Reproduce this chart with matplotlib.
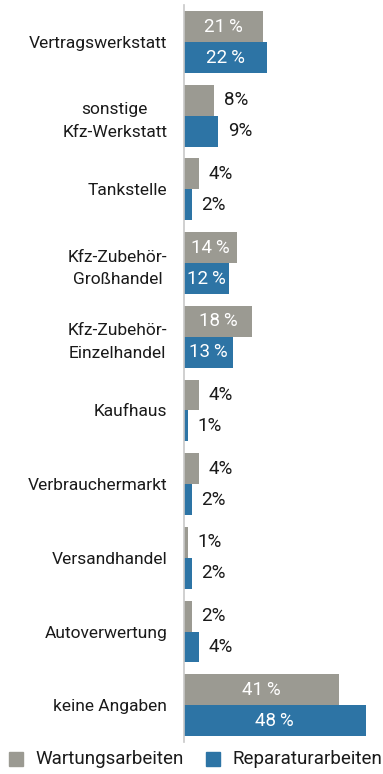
import matplotlib
matplotlib.use("Agg")
import matplotlib.pyplot as plt
from matplotlib import font_manager
from matplotlib.patches import Rectangle

# Werkstatt-Umfrage: wo werden Wartung und Reparatur erledigt (in %)
categories = [
    "Vertragswerkstatt",
    "sonstige\nKfz-Werkstatt",
    "Tankstelle",
    "Kfz-Zubehör-\nGroßhandel",
    "Kfz-Zubehör-\nEinzelhandel",
    "Kaufhaus",
    "Verbrauchermarkt",
    "Versandhandel",
    "Autoverwertung",
    "keine Angaben",
]
wartung = [21, 8, 4, 14, 18, 4, 4, 1, 2, 41]
reparatur = [22, 9, 2, 12, 13, 1, 2, 2, 4, 48]
series_names = ["Wartungsarbeiten", "Reparaturarbeiten"]

GRAY = "#9b9a92"
BLUE = "#2d74a5"

installed = {f.name for f in font_manager.fontManager.ttflist}
family = "DejaVu Sans"
for cand in ["Liberation Sans Narrow", "DejaVu Sans Condensed", "Roboto", "Open Sans"]:
    if cand in installed:
        family = cand
        break
plt.rcParams["font.family"] = [family, "DejaVu Sans"]

fig = plt.figure(figsize=(3.83, 7.74), dpi=100)
ax = fig.add_axes([184 / 383, 0.0413, 1 - 184 / 383, 0.952])

h = 0.42
y = list(range(len(categories)))
ax.barh([i - h / 2 for i in y], wartung, height=h, color=GRAY)
ax.barh([i + h / 2 for i in y], reparatur, height=h, color=BLUE)

ax.set_xlim(0, 52.6)
ax.set_ylim(len(categories) - 0.5, -0.5)

# value labels: inside (white) for long bars, beside the bar otherwise
for i in y:
    for val, off in ((wartung[i], -h / 2), (reparatur[i], h / 2)):
        if val >= 12:
            ax.text(val / 2, i + off, f"{val}\u2009%", color="white",
                    ha="center", va="center", fontsize=13.5)
        else:
            ax.annotate(f"{val}%", (val, i + off), xytext=(7, 0),
                        textcoords="offset points", ha="left", va="center",
                        fontsize=13.5, color="#1a1a1a")

ax.set_yticks(y)
ax.set_yticklabels(categories, fontsize=12.5, color="#1a1a1a")
for lbl in ax.get_yticklabels():
    lbl.set_multialignment("center")
    lbl.set_linespacing(1.65)
ax.tick_params(axis="y", length=0, pad=12)
ax.set_xticks([])

for side in ["top", "right", "bottom"]:
    ax.spines[side].set_visible(False)
ax.spines["left"].set_color("#c8c8c8")
ax.spines["left"].set_linewidth(1.2)

# legend along the bottom edge
for x0, color, name in ((9, GRAY, series_names[0]), (206, BLUE, series_names[1])):
    fig.patches.append(Rectangle((x0 / 383, (774 - 766) / 774), 14 / 383, 14 / 774,
                                 transform=fig.transFigure, color=color))
    fig.text((x0 + 26) / 383, (774 - 759) / 774, name, fontsize=13.5,
             va="center", ha="left", color="#1a1a1a")

fig.savefig("out.png", dpi=100)
